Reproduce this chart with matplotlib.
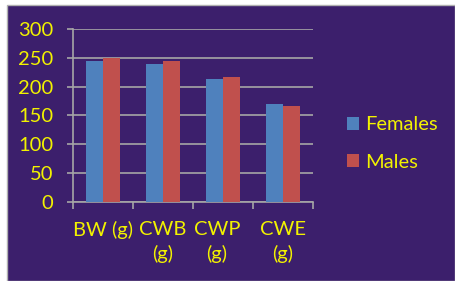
import matplotlib
matplotlib.use("Agg")
import matplotlib.pyplot as plt
import matplotlib.transforms as mtransforms
from matplotlib.patches import Rectangle
import numpy as np

categories = ["BW (g)", "CWB\n(g)", "CWP\n(g)", "CWE\n(g)"]
females = [244, 239, 214, 170]
males = [250, 244, 217, 167]
y_ticks = [0, 50, 100, 150, 200, 250, 300]

BG = "#3C1F6C"
TXT = "#F2F200"
BLUE = "#4F81BD"
RED = "#C0504D"
GRID = "#A6A6A6"

plt.rcParams.update({
    "font.family": ["Lato", "DejaVu Sans"],
    "font.size": 14.5,
})

fig = plt.figure(figsize=(4.55, 2.81), dpi=100)
fig.patch.set_facecolor("white")
fig.patches.append(Rectangle((7 / 455, 0), 1 - 7 / 455, 1 - 5 / 281,
                             transform=fig.transFigure, facecolor=BG,
                             edgecolor="#B0B0B0", linewidth=1, zorder=-5))

ax = fig.add_axes([73 / 455, 1 - 201.7 / 281, 240 / 455, 172.7 / 281])
ax.set_zorder(2)
ax.set_facecolor("none")

x = np.arange(len(categories))
w = 0.283
ax.bar(x - w / 2, females, w, color=BLUE, label="Females", zorder=3)
ax.bar(x + w / 2, males, w, color=RED, label="Males", zorder=3)

ax.set_xlim(-0.5, len(categories) - 0.5)
ax.set_ylim(0, 300)
ax.set_yticks(y_ticks)
ax.yaxis.grid(True, color=GRID, linewidth=1.2, zorder=1)
ax.set_axisbelow(True)

ax.set_xticks(x)
ax.set_xticklabels(categories, color=TXT, linespacing=1.45)
ax.set_xticks(np.arange(-0.5, len(categories)), minor=True)
ax.tick_params(axis="x", which="major", length=0, pad=14)
ax.tick_params(axis="x", which="minor", length=5, width=1.2, color=GRID)
ax.tick_params(axis="y", length=4.3, width=1.2, color=GRID, pad=10, labelcolor=TXT)

# CWP label sits a bit left of its slot in the original
lbl = ax.get_xticklabels()[2]
lbl.set_transform(lbl.get_transform() + mtransforms.ScaledTranslation(-6 / 100, 0, fig.dpi_scale_trans))

for side in ["top", "right"]:
    ax.spines[side].set_visible(False)
for side in ["left", "bottom"]:
    ax.spines[side].set_color(GRID)
    ax.spines[side].set_linewidth(1.2)

leg = ax.legend(loc="center left", bbox_to_anchor=(347 / 455, 1 - 143.5 / 281),
                bbox_transform=fig.transFigure, frameon=False, borderaxespad=0,
                borderpad=0, handlelength=0.6, handleheight=0.6,
                handletextpad=0.3, labelspacing=1.0)
for t in leg.get_texts():
    t.set_color(TXT)

fig.savefig("out.png", dpi=100)
